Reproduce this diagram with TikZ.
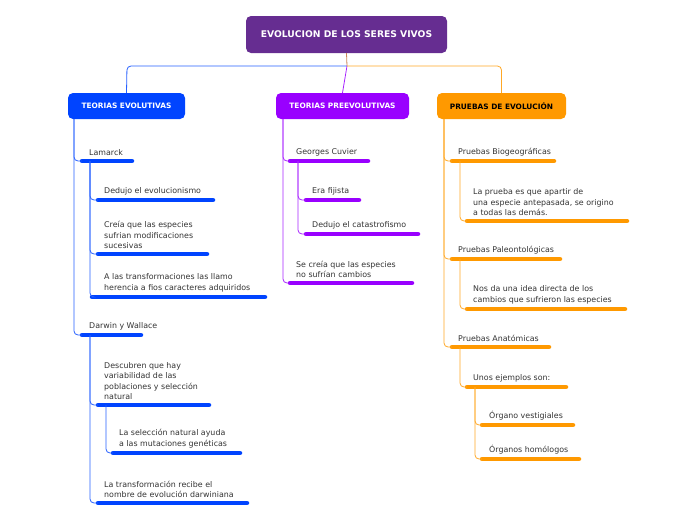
\documentclass[tikz,border=0pt]{standalone}
\usepackage{fontspec}
\setmainfont{DejaVu Sans}
\definecolor{rootc}{HTML}{662D91}
\definecolor{evoc}{HTML}{0044FF}
\definecolor{prec}{HTML}{9900FF}
\definecolor{pruc}{HTML}{FF9900}
\tikzset{
  topbox/.style={fill=#1, rounded corners=5pt, inner sep=0pt, font=\bfseries\fontsize{7.4}{8}\selectfont},
  leafbar/.style={draw=#1, line width=4.5pt, line cap=round},
  leaftext/.style={anchor=south west, inner sep=0pt, align=left, text=black!80, font=\fontsize{7.9}{10.4}\selectfont},
  conn/.style={draw=#1!85, line width=0.8pt, rounded corners=4pt}
}
% leaf: name, text x, bar y, bar start, bar end, colour, text
\newcommand{\leaf}[7]{%
  \draw[leafbar=#6] (#4,#3) -- (#5,#3);
  \coordinate (#1) at (#4,#3);
  \coordinate (#1-s) at ({#4+8},#3);
  \node[leaftext] (#1-t) at (#2,{#3-5}) {#7};
}
\begin{document}
\begin{tikzpicture}[x=1pt,y=-1pt]
  \useasboundingbox (0,0) rectangle (696,520);
  % boxes
  \node[topbox=rootc, text=white, minimum width=201pt, minimum height=37pt, font=\bfseries\fontsize{9.2}{10}\selectfont] (root) at (346.5,34.5) {EVOLUCION DE LOS SERES VIVOS};
  \node[topbox=evoc, text=white, minimum width=117pt, minimum height=26pt] (evo) at (126.5,106) {TEORIAS EVOLUTIVAS};
  \node[topbox=prec, text=white, minimum width=133pt, minimum height=26pt] (pre) at (342.5,106) {TEORIAS PREEVOLUTIVAS};
  \node[topbox=pruc, text=black, minimum width=129pt, minimum height=26pt] (pru) at (501.5,106) {PRUEBAS DE EVOLUCIÓN};
  \coordinate (evo-s) at (74,119);
  \coordinate (pre-s) at (283,119);
  \coordinate (pru-s) at (444,119);
  \coordinate (mid) at (347,66);
  \draw[conn=rootc!40!pruc] (root.south) -- (mid);
  \draw[conn=evoc] (mid) -- (127,66) -- (evo.north);
  \draw[conn=prec] (mid) -- (pre.north);
  \draw[conn=pruc] (mid) -- (501.5,66) -- (pru.north);

  % teorias evolutivas
  \leaf{lam}{89}{161}{82}{132}{evoc}{Lamarck}
  \leaf{ded}{104}{200}{98}{213}{evoc}{Dedujo el evolucionismo}
  \leaf{cre}{104}{254}{98}{207}{evoc}{Creía que las especies\\sufrian modificaciones\\sucesivas}
  \leaf{tra}{104}{297}{92}{265}{evoc}{A las transformaciones las llamo\\herencia a fios caracteres adquiridos}
  \leaf{dar}{89}{335}{82}{141}{evoc}{Darwin y Wallace}
  \leaf{des}{104}{405}{98}{209}{evoc}{Descubren que hay\\variabilidad de las\\poblaciones y selección\\natural}
  \leaf{sel}{119}{453}{113}{240}{evoc}{La selección natural ayuda\\a las mutaciones genéticas}
  \leaf{nom}{104}{503}{98}{247}{evoc}{La transformación recibe el\\nombre de evolución darwiniana}
  \draw[conn=evoc] (evo-s) |- (lam);
  \draw[conn=evoc] (evo-s) |- (dar);
  \draw[conn=evoc] (lam-s) |- (ded);
  \draw[conn=evoc] (lam-s) |- (cre);
  \draw[conn=evoc] (lam-s) |- (tra);
  \draw[conn=evoc] (dar-s) |- (des);
  \draw[conn=evoc] (dar-s) |- (nom);
  \draw[conn=evoc] (des-s) |- (sel);

  % teorias preevolutivas
  \leaf{cuv}{296}{161}{290}{368}{prec}{Georges Cuvier}
  \leaf{fij}{312}{200}{306}{359}{prec}{Era fijista}
  \leaf{cat}{312}{234}{306}{418}{prec}{Dedujo el catastrofismo}
  \leaf{cam}{296}{283}{290}{412}{prec}{Se creía que las especies\\no sufrían cambios}
  \draw[conn=prec] (pre-s) |- (cuv);
  \draw[conn=prec] (pre-s) |- (cam);
  \draw[conn=prec] (cuv-s) |- (fij);
  \draw[conn=prec] (cuv-s) |- (cat);

  % pruebas de evolucion
  \leaf{bio}{458}{161}{452}{554}{pruc}{Pruebas Biogeográficas}
  \leaf{ant}{473}{221}{467}{627}{pruc}{La prueba es que apartir de\\una especie antepasada, se origino\\a todas las demás.}
  \leaf{pal}{458}{259}{452}{560}{pruc}{Pruebas Paleontológicas}
  \leaf{ide}{473}{309}{467}{625}{pruc}{Nos da una idea directa de los\\cambios que sufrieron las especies}
  \leaf{ana}{458}{347}{452}{549}{pruc}{Pruebas Anatómicas}
  \leaf{eje}{473}{387}{467}{566}{pruc}{Unos ejemplos son:}
  \leaf{ves}{489}{425}{482}{573}{pruc}{Órgano vestigiales}
  \leaf{hom}{489}{459}{482}{579}{pruc}{Órganos homólogos}
  \draw[conn=pruc] (pru-s) |- (bio);
  \draw[conn=pruc] (pru-s) |- (pal);
  \draw[conn=pruc] (pru-s) |- (ana);
  \draw[conn=pruc] (bio-s) |- (ant);
  \draw[conn=pruc] (pal-s) |- (ide);
  \draw[conn=pruc] (ana-s) |- (eje);
  \draw[conn=pruc] (eje-s) |- (ves);
  \draw[conn=pruc] (eje-s) |- (hom);
\end{tikzpicture}
\end{document}
